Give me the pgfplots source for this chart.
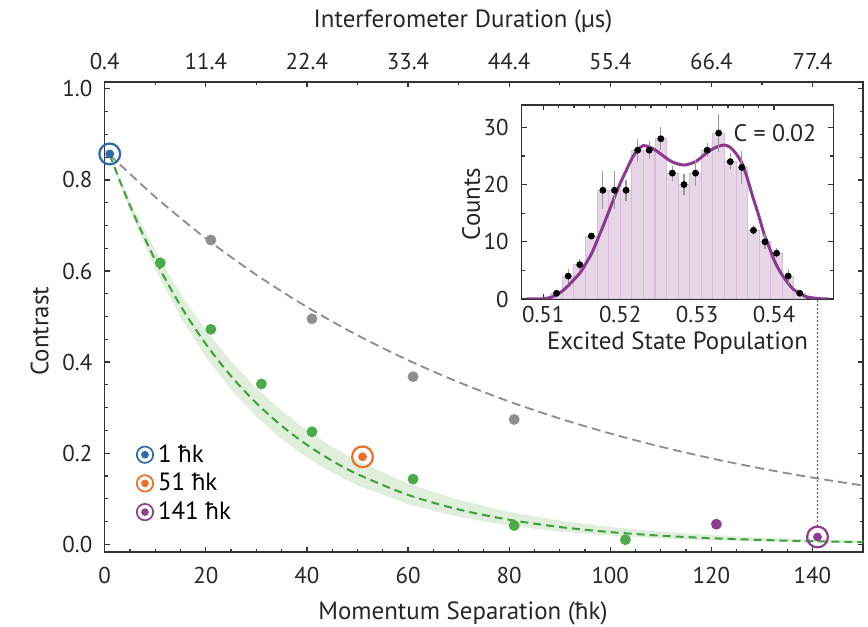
\documentclass[border=0pt]{standalone}
\usepackage{fontspec}
\setmainfont{PT Sans}
\usepackage{pgfplots}
\usepackage{pgfplotstable}
\pgfplotsset{compat=1.18}
\usetikzlibrary{calc}

\definecolor{axcol}{HTML}{333333}
\definecolor{cblue}{HTML}{2D6AA6}
\definecolor{corange}{HTML}{E8702A}
\definecolor{cpurple}{HTML}{8B3F8F}
\definecolor{cgreen}{HTML}{4DAA4A}
\definecolor{cgreendash}{HTML}{3FA03B}
\definecolor{cband}{HTML}{DFEFDB}
\definecolor{cgrey}{HTML}{8E8E8E}
\definecolor{cgreydash}{HTML}{8C8C8C}
\definecolor{cbar}{HTML}{E7D6E8}
\definecolor{cbaredge}{HTML}{D9BCDB}
\definecolor{cfit}{HTML}{8B3A90}

\newcommand\ticksize{\fontsize{11.5}{13}\selectfont}
\newcommand\labsize{\fontsize{12.5}{14}\selectfont}

\pgfplotsset{
  base/.style={
    scale only axis, width=379.15bp, height=235bp,
    xmin=0, xmax=150, ymin=-0.017, ymax=1.015,
    tick align=inside, major tick length=2.6bp, minor tick length=1.6bp,
    axis line style={line width=0.75bp, draw=axcol},
    tick style={line width=0.6bp, draw=axcol},
    tick label style={font=\ticksize, text=black!85, inner sep=0pt},
    label style={font=\labsize, text=black!85, inner sep=0pt},
    /pgf/number format/assume math mode=true,
  },
}

% histogram in the inset: bin centre, counts, error
\pgfplotstableread{
x y e
0.51173 1 0.3
0.51324 4 1.2
0.51474 6 1.0
0.51625 11 0.5
0.51775 19 3.3
0.51926 19 3.3
0.52076 19 1.8
0.52227 26 2.0
0.52377 26 1.6
0.52528 28 2.0
0.52678 22 1.3
0.52829 20 1.9
0.52979 22 2.3
0.53130 26 1.2
0.53280 29 3.3
0.53431 24 1.5
0.53581 23 2.9
0.53732 12 0.9
0.53882 10 1.3
0.54033 8 0.9
0.54183 4 1.3
0.54334 1 0.3
}\hist

\begin{document}
\begin{tikzpicture}

\begin{axis}[base, name=main, clip=false,
    xtick={0,20,...,140}, minor x tick num=3, xtick pos=left,
    ytick={0,0.2,0.4,0.6,0.8,1},
    yticklabels={0.0,0.2,0.4,0.6,0.8,1.0},
    minor y tick num=3, yticklabel pos=left,
    xticklabel style={anchor=base, yshift=-15.7bp},
    yticklabel style={anchor=east, xshift=-6bp},
    xlabel={Momentum Separation (ħk)}, ylabel={Contrast},
    xlabel style={at={(axis description cs:0.4725,-0.1426)}, anchor=base},
    ylabel style={at={(axis description cs:-0.0857,0.47)}, anchor=center},
    legend style={at={(axis cs:6.1,0.229)}, anchor=north west,
      draw=none, fill=none, inner sep=0pt, font=\labsize,
      row sep=0pt,
      /tikz/every even column/.append style={column sep=3.5bp}},
    legend cell align=left,
  ]
  % legend images
  \addlegendimage{legend image code/.code={
      \draw[cblue, line width=0.85bp] (0.16cm,0) circle (4.1bp);
      \fill[cblue] (0.16cm,0) circle (1.7bp);}}
  \addlegendentry{1 ħk}
  \addlegendimage{legend image code/.code={
      \draw[corange, line width=0.85bp] (0.16cm,0) circle (4.1bp);
      \fill[corange] (0.16cm,0) circle (1.7bp);}}
  \addlegendentry{51 ħk}
  \addlegendimage{legend image code/.code={
      \draw[cpurple, line width=0.85bp] (0.16cm,0) circle (4.1bp);
      \fill[cpurple] (0.16cm,0) circle (1.7bp);}}
  \addlegendentry{141 ħk}

  % confidence band of the green fit
  \addplot[draw=none, fill=cband, forget plot] coordinates {
    (1,0.855) (5,0.7538) (10,0.6439) (15,0.5501) (20,0.4700) (25,0.4014)
    (30,0.3429) (35,0.2930) (40,0.2503) (45,0.2138) (50,0.1827)
    (60,0.1333) (70,0.0973) (80,0.0710) (90,0.0518) (100,0.0378)
    (110,0.0276) (120,0.0201) (130,0.0147) (140,0.0107) (150,0.0078)
    (150,0.0028) (140,0.0041) (130,0.0060) (120,0.0087) (110,0.0128)
    (100,0.0189) (90,0.0278) (80,0.0409) (70,0.0600) (60,0.0882)
    (50,0.1296) (45,0.1571) (40,0.1905) (35,0.2309) (30,0.2799)
    (25,0.3394) (20,0.4114) (15,0.4987) (10,0.6046) (5,0.7330) (1,0.855)
  };

  % grey fit
  \addplot[cgreydash, line width=0.9bp, dash pattern=on 4.5bp off 2.5bp,
      smooth, forget plot] coordinates {
    (1,0.855) (10,0.7627) (20,0.6717) (30,0.5916) (40,0.5210) (50,0.4589)
    (60,0.4042) (70,0.3559) (80,0.3135) (90,0.2761) (100,0.2432)
    (110,0.2142) (120,0.1886) (130,0.1661) (140,0.1463) (150,0.1289)
  };

  % green fit
  \addplot[cgreendash, line width=1bp, dash pattern=on 4bp off 2.5bp,
      smooth, forget plot] coordinates {
    (1,0.855) (5,0.7433) (10,0.6240) (15,0.5238) (20,0.4397) (25,0.3691)
    (30,0.3098) (35,0.2601) (40,0.2183) (45,0.1833) (50,0.1539)
    (60,0.1084) (70,0.0764) (80,0.0538) (90,0.0379) (100,0.0267)
    (110,0.0188) (120,0.0133) (130,0.0094) (140,0.0066) (150,0.0046)
  };

  % guide to the inset
  \addplot[cpurple, line width=1bp, line cap=round,
      dash pattern=on 0bp off 2bp, forget plot]
    coordinates {(141,0.042) (141,0.538)};

  % data
  \addplot[only marks, mark=*, mark size=2.5bp, cgrey, forget plot]
    coordinates {(21,0.668) (41,0.495) (61,0.368) (81,0.274)};
  \addplot[only marks, mark=*, mark size=2.5bp, cgreen, forget plot]
    coordinates {(11,0.618) (21,0.472) (31,0.352) (41,0.247)
                 (61,0.143) (81,0.041) (103,0.010)};
  \addplot[only marks, mark=*, mark size=2.5bp, cpurple, forget plot]
    coordinates {(121,0.044)};

  % highlighted points
  \addplot[only marks, mark=*, mark size=2bp, cblue, forget plot]
    coordinates {(1,0.857)};
  \addplot[only marks, mark=o, mark size=5.2bp, cblue,
      mark options={line width=1.1bp}, forget plot]
    coordinates {(1,0.857)};
  \addplot[only marks, mark=*, mark size=2bp, corange, forget plot]
    coordinates {(51,0.192)};
  \addplot[only marks, mark=o, mark size=5.2bp, corange,
      mark options={line width=1.1bp}, forget plot]
    coordinates {(51,0.192)};
  \addplot[only marks, mark=*, mark size=2bp, cpurple, forget plot]
    coordinates {(141,0.016)};
  \addplot[only marks, mark=o, mark size=5.2bp, cpurple,
      mark options={line width=1.1bp}, forget plot]
    coordinates {(141,0.016)};
\end{axis}

% top axis: interferometer duration
\begin{axis}[base, axis x line*=top, axis y line=none,
    xtick={0,20,...,140},
    xticklabels={0.4,11.4,22.4,33.4,44.4,55.4,66.4,77.4},
    minor x tick num=1,
    xticklabel style={anchor=base, yshift=6.35bp},
    xlabel={Interferometer Duration (µs)},
    xlabel style={at={(axis description cs:0.4725,1.117)}, anchor=base},
  ]
  \addplot[draw=none] coordinates {(0,0) (150,1)};
\end{axis}

% inset histogram
\begin{axis}[scale only axis, width=155.8bp, height=97bp,
    at={($(main.south west)+(208.5bp,126.5bp)$)}, anchor=south west,
    xmin=0.5072, xmax=0.5477, ymin=0, ymax=33.9,
    axis background/.style={fill=white},
    tick align=inside, major tick length=2.6bp, minor tick length=1.6bp,
    axis line style={line width=0.75bp, draw=axcol},
    tick style={line width=0.6bp, draw=axcol},
    tick label style={font=\ticksize, text=black!85, inner sep=0pt},
    label style={font=\labsize, text=black!85, inner sep=0pt},
    /pgf/number format/assume math mode=true,
    xtick={0.51,0.52,0.53,0.54},
    xticklabels={0.51,0.52,0.53,0.54},
    minor x tick num=4,
    ytick={0,10,20,30}, minor y tick num=1,
    xticklabel style={anchor=base, yshift=-11.6bp},
    yticklabel style={anchor=east, xshift=-6.3bp},
    xlabel={Excited State Population}, ylabel={Counts},
    xlabel style={at={(axis description cs:0.5,-0.26)}, anchor=base},
    ylabel style={at={(axis description cs:-0.1624,0.49)}, anchor=center},
  ]
  \addplot[ybar, bar width=0.001505, bar shift=0pt, fill=cbar,
      draw=cbaredge, line width=0.5bp] table[x=x, y=y] {\hist};
  \addplot[cfit, line width=1.5bp, smooth] coordinates {
    (0.5078,0) (0.5100,0.05) (0.5110,0.3) (0.5117,0.7) (0.5125,1.4)
    (0.5133,2.4) (0.5140,3.4) (0.5148,4.6) (0.5155,6.1) (0.5163,8.0)
    (0.5170,10.2) (0.5178,12.8) (0.5185,15.2) (0.5192,17.6) (0.5200,20.2)
    (0.5208,22.5) (0.5215,24.5) (0.5223,26.1) (0.5230,26.8) (0.5237,26.6)
    (0.5245,26.1) (0.5252,25.4) (0.5260,24.6) (0.5267,24.0) (0.5275,23.6)
    (0.5283,23.4) (0.5290,23.6) (0.5298,24.0) (0.5305,24.7) (0.5312,25.5)
    (0.5320,26.2) (0.5328,26.7) (0.5336,26.9) (0.5343,26.5) (0.5350,25.5)
    (0.5358,23.8) (0.5365,21.2) (0.5372,18.0) (0.5380,14.6) (0.5387,11.4)
    (0.5395,8.6) (0.5402,6.2) (0.5410,4.3) (0.5418,2.8) (0.5425,1.7)
    (0.5433,1.0) (0.5440,0.5) (0.5447,0.25) (0.5460,0.05) (0.5471,0)
  };
  \addplot[only marks, mark=*, mark size=1.5bp, black,
      error bars/.cd, y dir=both, y explicit, error mark=none,
      error bar style={black!40, line width=0.6bp}]
    table[x=x, y=y, y error=e] {\hist};
  \node[anchor=east, font=\fontsize{12}{14}\selectfont, text=black!85]
    at (axis cs:0.5464,29.0) {C = 0.02};
\end{axis}

\pgfresetboundingbox
\path[use as bounding box]
  ($(main.south west)+(-52.35bp,-37.5bp)$) rectangle
  ($(main.north east)+(2.5bp,41bp)$);
\end{tikzpicture}
\end{document}
